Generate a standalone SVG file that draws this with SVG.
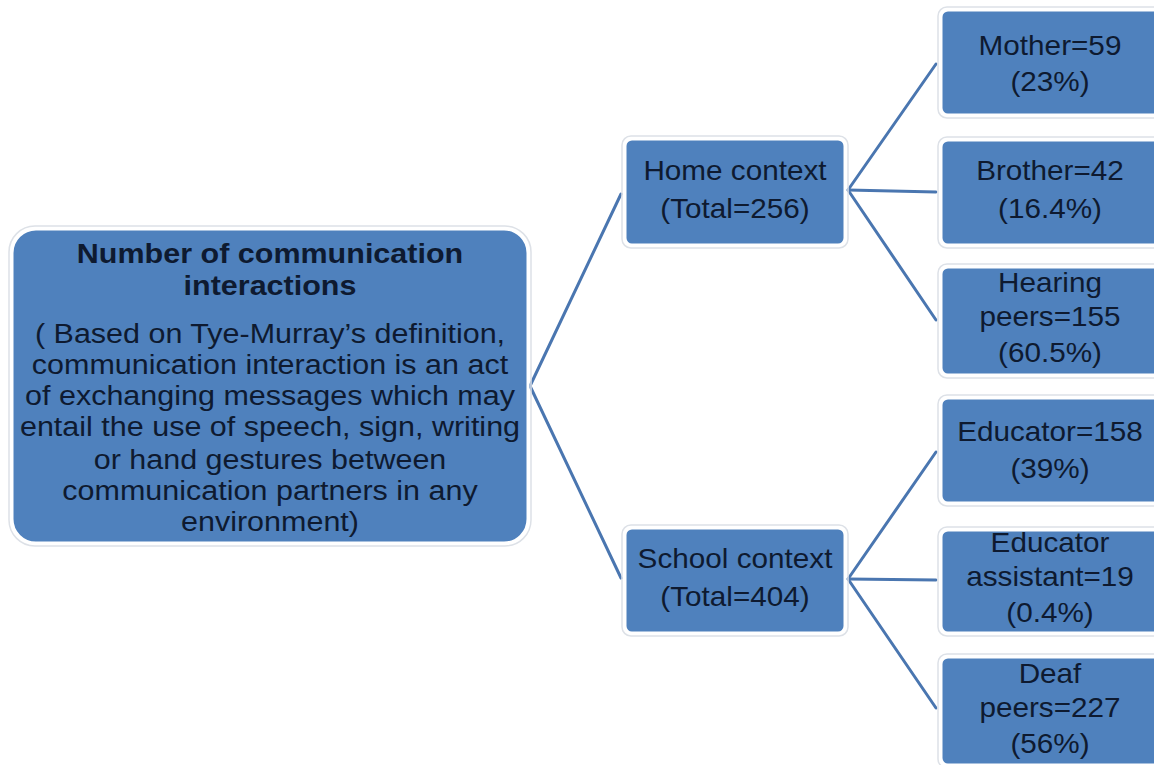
<svg xmlns="http://www.w3.org/2000/svg" width="1154" height="765" viewBox="0 0 1154 765">
  <style>
    .box { fill: #4f81bd; stroke: #ffffff; stroke-width: 3; }
    .halo { fill: none; stroke: #dde1e7; stroke-width: 1.5; }
    .lbl { font-family: "Liberation Sans", Arial, sans-serif; font-size: 27px; fill: #0e1a30; text-anchor: middle; }
    .ttl { font-weight: bold; }
    .link { stroke: #4a76b0; stroke-width: 3; fill: none; stroke-linecap: round; }
  </style>
  <rect width="1154" height="765" fill="#ffffff"/>

  <!-- connectors -->
  <g id="connectors">
    <line class="link" x1="530" y1="386" x2="621" y2="194"/>
    <line class="link" x1="530" y1="386" x2="621" y2="578"/>
    <line class="link" x1="848" y1="190" x2="936" y2="64"/>
    <line class="link" x1="848" y1="190" x2="936" y2="192"/>
    <line class="link" x1="848" y1="190" x2="936" y2="320"/>
    <line class="link" x1="848" y1="579" x2="936" y2="452"/>
    <line class="link" x1="848" y1="579" x2="936" y2="580"/>
    <line class="link" x1="848" y1="579" x2="936" y2="708"/>
  </g>

  <!-- root -->
  <g id="root">
    <rect class="halo" x="9" y="226" width="522" height="320" rx="26"/>
    <rect class="box" x="12" y="229" width="516" height="314" rx="24"/>
    <g transform="translate(270 0) scale(1.13 1)">
      <text class="lbl ttl" x="0" y="263">Number of communication</text>
      <text class="lbl ttl" x="0" y="295">interactions</text>
      <text class="lbl" x="0" y="343">( Based on Tye-Murray’s definition,</text>
      <text class="lbl" x="0" y="374">communication interaction is an act</text>
      <text class="lbl" x="0" y="405">of exchanging messages which may</text>
      <text class="lbl" x="0" y="436">entail the use of speech, sign, writing</text>
      <text class="lbl" x="0" y="469">or hand gestures between</text>
      <text class="lbl" x="0" y="500">communication partners in any</text>
      <text class="lbl" x="0" y="531">environment)</text>
    </g>
  </g>

  <!-- home context -->
  <g id="home">
    <rect class="halo" x="622" y="136" width="226" height="112" rx="9"/>
    <rect class="box" x="625" y="139" width="220" height="106" rx="7"/>
    <g transform="translate(735 0) scale(1.1 1)">
      <text class="lbl" x="0" y="180">Home context</text>
      <text class="lbl" x="0" y="218">(Total=256)</text>
    </g>
  </g>

  <!-- school context -->
  <g id="school">
    <rect class="halo" x="622" y="525" width="226" height="111" rx="9"/>
    <rect class="box" x="625" y="528" width="220" height="105" rx="7"/>
    <g transform="translate(735 0) scale(1.1 1)">
      <text class="lbl" x="0" y="568">School context</text>
      <text class="lbl" x="0" y="606">(Total=404)</text>
    </g>
  </g>

  <!-- home children -->
  <g id="mother">
    <rect class="halo" x="938" y="7" width="230" height="111" rx="9"/>
    <rect class="box" x="941" y="10" width="225" height="105" rx="7"/>
    <g transform="translate(1050 0) scale(1.1 1)">
      <text class="lbl" x="0" y="55">Mother=59</text>
      <text class="lbl" x="0" y="91">(23%)</text>
    </g>
  </g>
  <g id="brother">
    <rect class="halo" x="938" y="137" width="230" height="111" rx="9"/>
    <rect class="box" x="941" y="140" width="225" height="105" rx="7"/>
    <g transform="translate(1050 0) scale(1.1 1)">
      <text class="lbl" x="0" y="180">Brother=42</text>
      <text class="lbl" x="0" y="218">(16.4%)</text>
    </g>
  </g>
  <g id="hearing">
    <rect class="halo" x="938" y="264" width="230" height="114" rx="9"/>
    <rect class="box" x="941" y="267" width="225" height="108" rx="7"/>
    <g transform="translate(1050 0) scale(1.1 1)">
      <text class="lbl" x="0" y="292">Hearing</text>
      <text class="lbl" x="0" y="326">peers=155</text>
      <text class="lbl" x="0" y="362">(60.5%)</text>
    </g>
  </g>

  <!-- school children -->
  <g id="educator">
    <rect class="halo" x="938" y="395" width="230" height="111" rx="9"/>
    <rect class="box" x="941" y="398" width="225" height="105" rx="7"/>
    <g transform="translate(1050 0) scale(1.1 1)">
      <text class="lbl" x="0" y="441">Educator=158</text>
      <text class="lbl" x="0" y="478">(39%)</text>
    </g>
  </g>
  <g id="assistant">
    <rect class="halo" x="938" y="527" width="230" height="109" rx="9"/>
    <rect class="box" x="941" y="530" width="225" height="103" rx="7"/>
    <g transform="translate(1050 0) scale(1.1 1)">
      <text class="lbl" x="0" y="552">Educator</text>
      <text class="lbl" x="0" y="586">assistant=19</text>
      <text class="lbl" x="0" y="622">(0.4%)</text>
    </g>
  </g>
  <g id="deaf">
    <rect class="halo" x="938" y="654" width="230" height="114" rx="9"/>
    <rect class="box" x="941" y="657" width="225" height="108" rx="7"/>
    <g transform="translate(1050 0) scale(1.1 1)">
      <text class="lbl" x="0" y="683">Deaf</text>
      <text class="lbl" x="0" y="717">peers=227</text>
      <text class="lbl" x="0" y="753">(56%)</text>
    </g>
  </g>
</svg>
